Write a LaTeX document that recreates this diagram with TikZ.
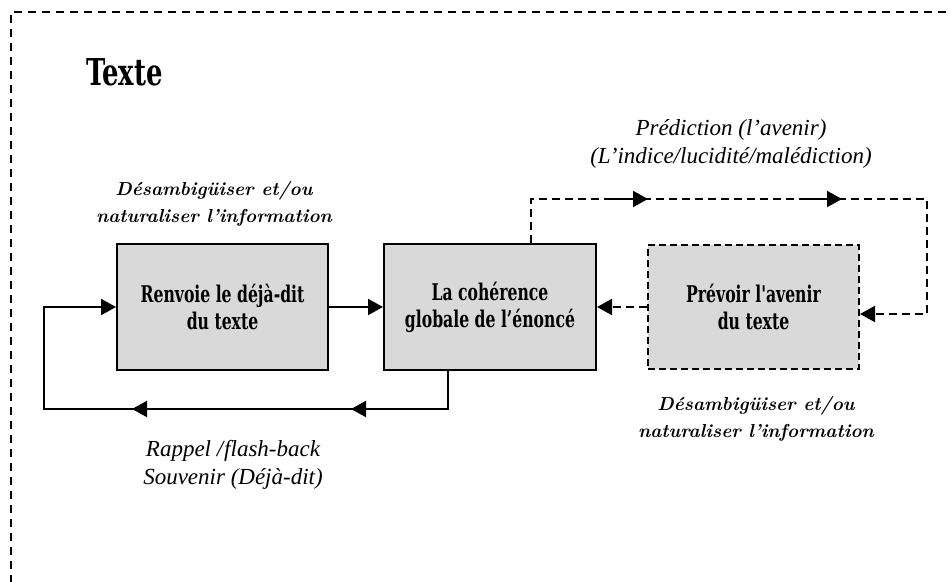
\documentclass[tikz,border=0pt]{standalone}
\usepackage{fontspec}
\usetikzlibrary{arrows.meta,decorations.markings}
\newfontfamily\boxfont[FakeStretch=0.68]{DejaVu Serif}
\newfontfamily\titlefont[FakeStretch=0.70]{DejaVu Serif}
\newfontfamily\notefont{Liberation Serif}
\definecolor{boxgray}{HTML}{D9D9D9}
\tikzset{tip/.tip={Triangle[length=15pt,width=16pt]}}
\newcommand\midtip{%
  \draw[solid,line width=2.6pt,-] (-40pt,0) -- (-10pt,0);
  \arrow{tip}}
\begin{document}
\begin{tikzpicture}[x=1pt,y=-1pt,
  box/.style={draw,line width=2pt,fill=boxgray,minimum width=211pt,
    minimum height=126pt,inner sep=0pt,align=center,
    font=\boxfont\bfseries\fontsize{23}{27}\selectfont},
  conn/.style={line width=2pt,-tip},
  dconn/.style={conn,dash pattern=on 8pt off 5pt},
  lmnote/.style={align=center,inner sep=0pt,
    font=\bfseries\itshape\fontsize{18.8}{27.5}\selectfont},
  palnote/.style={align=center,inner sep=0pt,
    font=\notefont\itshape\fontsize{23}{28}\selectfont}]
\useasboundingbox (0,0) rectangle (952,581);

% dashed outer frame, open to the right and bottom
\draw[line width=2pt,dash pattern=on 8pt off 6pt] (960,12) -- (11,12) -- (11,590);

\node[font=\titlefont\bfseries\fontsize{37}{40}\selectfont,inner sep=0pt] (title) at (124.5,72) {Texte};

% boxes
\node[box] (b1) at (222.5,307) {Renvoie le déjà-dit\\du texte};
\node[box,minimum width=212pt] (b2) at (490,307) {La cohérence\\globale de l’énoncé};
\node[box,dash pattern=on 7pt off 4pt,minimum height=124pt] (b3) at (753.5,307) {Prévoir l'avenir\\du texte};

% labels
\node[lmnote] (n1) at (214,204) {Désambigüiser et/ou\\naturaliser l’information};
\node[lmnote] (n2) at (756,419) {Désambigüiser et/ou\\naturaliser l’information};
\node[palnote] (n3) at (731,144) {Prédiction (l’avenir)\\(L’indice/lucidité/malédiction)};
\node[palnote] (n4) at (233,465) {Rappel /\kern1pt flash-back\\Souvenir (Déjà-dit)};

% connectors
\draw[conn] (b1.east) -- (b2.east -| b2.west);
\draw[conn,postaction={decorate},decoration={markings,
    mark=at position 135pt with {\midtip},
    mark=at position 354pt with {\midtip}}]
  ([xshift=-42pt]b2.south) |- (44,409) |- (b1.west);
\draw[dconn,postaction={decorate},decoration={markings,
    mark=at position 161pt with {\midtip},
    mark=at position 355pt with {\midtip}}]
  ([xshift=41pt]b2.north) |- (927,199) |- ([yshift=-7pt]b3.east);
\draw[dconn] (b3.west) -- (b2.east);
\end{tikzpicture}
\end{document}
